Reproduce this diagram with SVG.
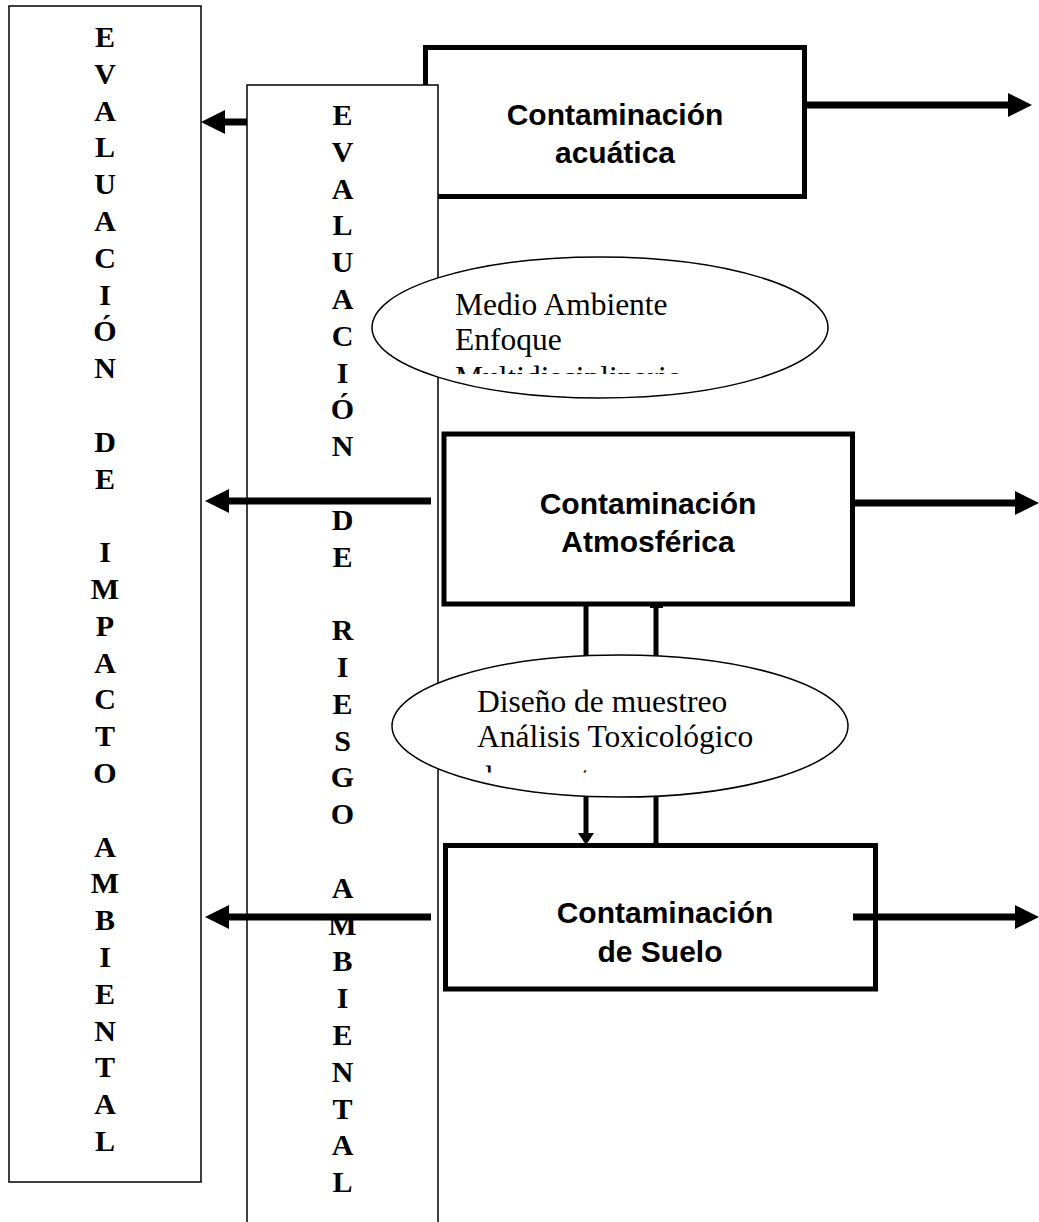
<svg xmlns="http://www.w3.org/2000/svg" width="1039" height="1222" viewBox="0 0 1039 1222">
<style>
.thin{fill:#fff;stroke:#000;stroke-width:1.5}
.thick{fill:#fff;stroke:#000;stroke-width:5}
.ell{fill:#fff;stroke:#000;stroke-width:1.5}
.col{font-family:"Liberation Serif","Times New Roman",serif;font-weight:bold;font-size:30px;text-anchor:middle;fill:#000}
.lbl{font-family:"Liberation Sans",Arial,sans-serif;font-weight:bold;font-size:30px;text-anchor:middle;fill:#000}
.etx{font-family:"Liberation Serif","Times New Roman",serif;font-size:31.5px;fill:#000}
.arr{stroke:#000;stroke-width:7;fill:none}
.vl{stroke:#000;stroke-width:5;fill:none}
</style>
<defs>
<marker id="ah" markerUnits="userSpaceOnUse" viewBox="0 0 24 24" markerWidth="24" markerHeight="24" refX="0" refY="12" orient="auto"><path d="M0,0 L24,12 L0,24 z" fill="#000"/></marker>
<marker id="ahs" markerUnits="userSpaceOnUse" viewBox="0 0 12 16" markerWidth="12" markerHeight="16" refX="0" refY="8" orient="auto"><path d="M0,0 L12,8 L0,16 z" fill="#000"/></marker>
<clipPath id="c1"><rect x="372" y="258" width="470" height="116"/></clipPath>
<clipPath id="c2"><rect x="392" y="656" width="460" height="116.5"/></clipPath>
</defs>

<g id="eval-impacto">
<rect class="thin" x="9" y="6" width="192" height="1176"/>
<text class="col">
<tspan x="105" y="47">E</tspan><tspan x="105" y="83.8">V</tspan><tspan x="105" y="120.6">A</tspan><tspan x="105" y="157.4">L</tspan><tspan x="105" y="194.2">U</tspan><tspan x="105" y="231">A</tspan><tspan x="105" y="267.8">C</tspan><tspan x="105" y="304.6">I</tspan><tspan x="105" y="341.4">Ó</tspan><tspan x="105" y="378.2">N</tspan><tspan x="105" y="451.8">D</tspan><tspan x="105" y="488.6">E</tspan><tspan x="105" y="562.2">I</tspan><tspan x="105" y="599">M</tspan><tspan x="105" y="635.8">P</tspan><tspan x="105" y="672.6">A</tspan><tspan x="105" y="709.4">C</tspan><tspan x="105" y="746.2">T</tspan><tspan x="105" y="783">O</tspan><tspan x="105" y="856.6">A</tspan><tspan x="105" y="893.4">M</tspan><tspan x="105" y="930.2">B</tspan><tspan x="105" y="967">I</tspan><tspan x="105" y="1003.8">E</tspan><tspan x="105" y="1040.6">N</tspan><tspan x="105" y="1077.4">T</tspan><tspan x="105" y="1114.2">A</tspan><tspan x="105" y="1151">L</tspan>
</text>
</g>

<g id="contaminacion-acuatica">
<rect class="thick" x="425.5" y="47.5" width="379" height="149"/>
<text class="lbl" x="615" y="125">Contaminación</text>
<text class="lbl" x="615" y="163">acuática</text>
</g>

<g id="eval-riesgo">
<rect class="thin" x="247" y="85" width="191" height="1150"/>
<text class="col">
<tspan x="342.5" y="125">E</tspan><tspan x="342.5" y="161.8">V</tspan><tspan x="342.5" y="198.6">A</tspan><tspan x="342.5" y="235.4">L</tspan><tspan x="342.5" y="272.2">U</tspan><tspan x="342.5" y="309">A</tspan><tspan x="342.5" y="345.8">C</tspan><tspan x="342.5" y="382.6">I</tspan><tspan x="342.5" y="419.4">Ó</tspan><tspan x="342.5" y="456.2">N</tspan><tspan x="342.5" y="529.8">D</tspan><tspan x="342.5" y="566.6">E</tspan><tspan x="342.5" y="640.2">R</tspan><tspan x="342.5" y="677">I</tspan><tspan x="342.5" y="713.8">E</tspan><tspan x="342.5" y="750.6">S</tspan><tspan x="342.5" y="787.4">G</tspan><tspan x="342.5" y="824.2">O</tspan><tspan x="342.5" y="897.8">A</tspan><tspan x="342.5" y="934.6">M</tspan><tspan x="342.5" y="971.4">B</tspan><tspan x="342.5" y="1008.2">I</tspan><tspan x="342.5" y="1045">E</tspan><tspan x="342.5" y="1081.8">N</tspan><tspan x="342.5" y="1118.6">T</tspan><tspan x="342.5" y="1155.4">A</tspan><tspan x="342.5" y="1192.2">L</tspan>
</text>
</g>

<g id="medio-ambiente">
<ellipse class="ell" cx="600" cy="327.5" rx="228" ry="70.5"/>
<g clip-path="url(#c1)">
<text class="etx" x="455" y="315">Medio Ambiente</text>
<text class="etx" x="455" y="350">Enfoque</text>
<text class="etx" x="455" y="388">Multidisciplinario</text>
</g>
</g>

<g id="contaminacion-atmosferica">
<rect class="thick" x="444" y="434" width="408.5" height="170"/>
<text class="lbl" x="648" y="514">Contaminación</text>
<text class="lbl" x="648" y="552">Atmosférica</text>
</g>

<g id="diseno-muestreo">
<ellipse class="ell" cx="620" cy="726" rx="228" ry="71"/>
<g clip-path="url(#c2)">
<text class="etx" x="477" y="712">Diseño de muestreo</text>
<text class="etx" x="477" y="747">Análisis Toxicológico</text>
<text class="etx" x="477" y="788">de muestras</text>
</g>
</g>

<g id="contaminacion-suelo">
<rect class="thick" x="445.5" y="845.5" width="430" height="143.5"/>
<text class="lbl" x="665" y="923">Contaminación</text>
<text class="lbl" x="660" y="962">de Suelo</text>
</g>

<g id="connectors">
<line class="arr" x1="804.5" y1="105" x2="1008" y2="105" marker-end="url(#ah)"/>
<line class="arr" x1="247" y1="122" x2="225" y2="122" marker-end="url(#ah)"/>
<line class="arr" x1="431" y1="501" x2="229" y2="501" marker-end="url(#ah)"/>
<line class="arr" x1="852.5" y1="503" x2="1015" y2="503" marker-end="url(#ah)"/>
<line class="arr" x1="431" y1="917" x2="229" y2="917" marker-end="url(#ah)"/>
<line class="arr" x1="853" y1="917" x2="1015" y2="917" marker-end="url(#ah)"/>
<line class="vl" x1="586" y1="604" x2="586" y2="656"/>
<line class="vl" x1="586" y1="796" x2="586" y2="833" marker-end="url(#ahs)"/>
<line class="vl" x1="656" y1="604" x2="656" y2="656"/>
<line class="vl" x1="656" y1="796" x2="656" y2="844"/>
<rect x="650" y="604" width="13" height="4" fill="#000"/>
</g>
</svg>
